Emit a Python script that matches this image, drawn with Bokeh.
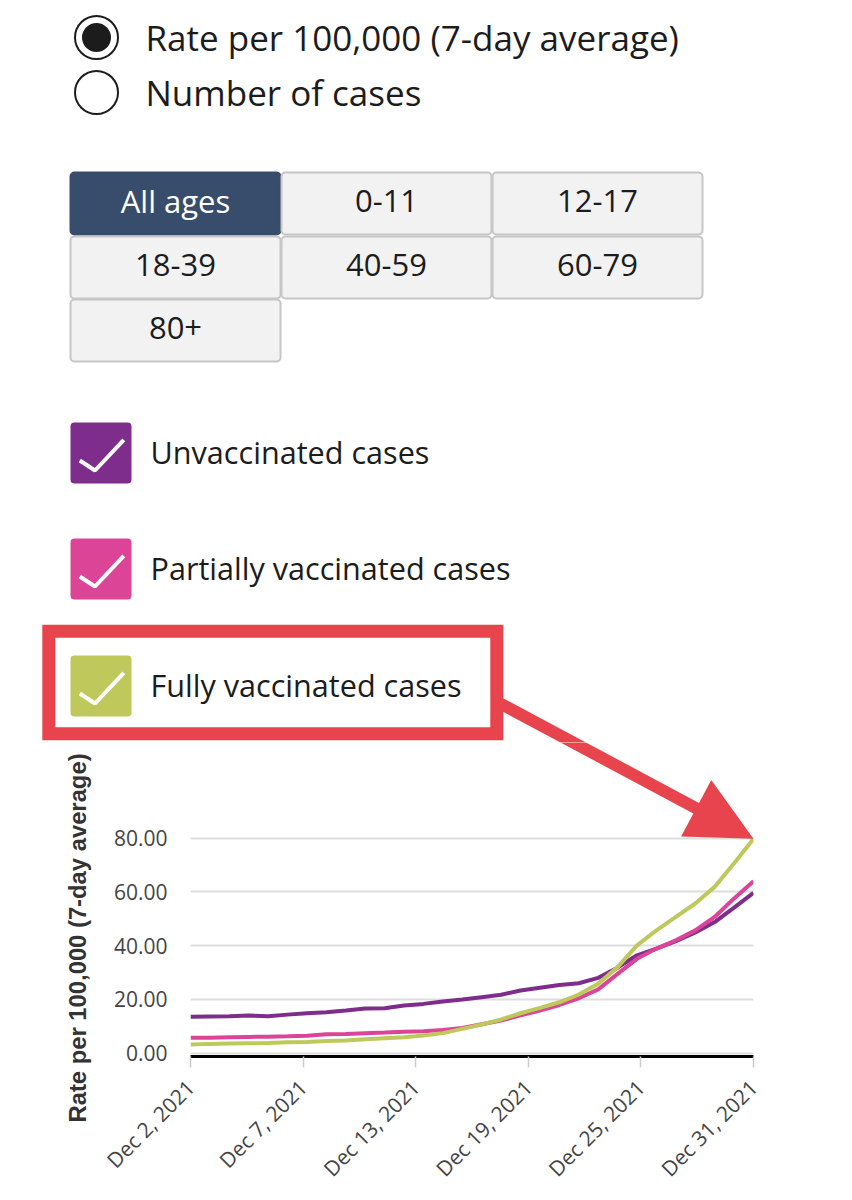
import datetime as dt
import math

from bokeh.plotting import figure
from bokeh.models import Range1d, FixedTicker, NumeralTickFormatter, Title, ColumnDataSource
from bokeh.layouts import column
from bokeh.embed import file_html
from bokeh.resources import INLINE
from bokeh.core.properties import value

# ---------------- data ----------------
dates = [dt.datetime(2021, 12, 2) + dt.timedelta(days=i) for i in range(30)]
unvaccinated = [13.5, 13.6, 13.7, 14.0, 13.7, 14.3, 14.8, 15.2, 15.8, 16.6,
                16.7, 17.7, 18.3, 19.2, 19.9, 20.8, 21.7, 23.3, 24.3, 25.3,
                26.0, 28.0, 31.8, 36.4, 38.9, 41.7, 44.9, 48.8, 54.2, 59.7]
partially = [5.7, 5.7, 5.9, 6.0, 6.1, 6.2, 6.4, 7.0, 7.1, 7.4,
             7.6, 7.9, 8.1, 8.6, 9.3, 10.7, 12.1, 14.0, 15.8, 17.9,
             20.4, 23.7, 29.5, 35.1, 38.9, 42.0, 45.7, 50.7, 57.6, 64.0]
fully = [3.2, 3.4, 3.5, 3.6, 3.7, 4.0, 4.1, 4.5, 4.7, 5.1,
         5.5, 5.9, 6.5, 7.4, 9.0, 10.6, 12.5, 14.8, 16.8, 18.9,
         21.8, 25.8, 32.0, 40.1, 45.7, 50.7, 55.7, 61.9, 70.7, 79.8]
y_ticks = [0, 20, 40, 60, 80]
x_tick_labels = ["Dec 2, 2021", "Dec 7, 2021", "Dec 13, 2021",
                 "Dec 19, 2021", "Dec 25, 2021", "Dec 31, 2021"]
y_axis_title = "Rate per 100,000 (7-day average)"
measure_options = ["Rate per 100,000 (7-day average)", "Number of cases"]
age_groups = ["All ages", "0-11", "12-17", "18-39", "40-59", "60-79", "80+"]
series_names = ["Unvaccinated cases", "Partially vaccinated cases", "Fully vaccinated cases"]
series_colors = ["#7e2d8c", "#dc4597", "#bfc85a"]

# ---------------- layout constants (pixels) ----------------
W, H = 852, 1200
TOP_H = 742
FRAME_L, FRAME_R = 190, 753
FRAME_T, FRAME_B = TOP_H, 1056
Y0_PX, YTOP_TICK_PX = 1052.5, 837.8
RED = "#e8444d"
TXT = "#1c1c1c"
FONT = value("Open Sans")
BASE_SHIFT = -13  # text anchor correction

ppu = (Y0_PX - YTOP_TICK_PX) / y_ticks[-1]
y_lo = -(FRAME_B - Y0_PX) / ppu
y_hi = (Y0_PX - FRAME_T) / ppu


def ms(d):
    return (d - dt.datetime(1970, 1, 1)).total_seconds() * 1000.0


x0, x1 = ms(dates[0]), ms(dates[-1])
span = x1 - x0


def px_to_x(px):
    return x0 + (px - FRAME_L) / (FRAME_R - FRAME_L) * span


def py_to_y(py):
    return y_lo + (FRAME_B - py) / (FRAME_B - FRAME_T) * (y_hi - y_lo)


def y_to_py(y):
    return FRAME_B - (y - y_lo) * ppu


# arrow geometry in page pixels; tip anchored on the last fully-vaccinated point
tip = (FRAME_R, y_to_py(fully[-1]))
start = (496.0, 701.0)
dx, dy = tip[0] - start[0], tip[1] - start[1]
L = math.hypot(dx, dy)
ux, uy = dx / L, dy / L
nx, ny = -uy, ux
head_len, head_half, shaft_half = 65.0, 32.0, 6.0
bx, by = tip[0] - head_len * ux, tip[1] - head_len * uy
arrow_px = [
    (start[0] - shaft_half * nx, start[1] - shaft_half * ny),
    (bx - shaft_half * nx, by - shaft_half * ny),
    (bx - head_half * nx, by - head_half * ny),
    tip,
    (bx + head_half * nx, by + head_half * ny),
    (bx + shaft_half * nx, by + shaft_half * ny),
    (start[0] + shaft_half * nx, start[1] + shaft_half * ny),
]

# ---------------- top figure: controls ----------------
top = figure(width=W, height=TOP_H, x_range=Range1d(0, W), y_range=Range1d(TOP_H, 0),
             x_axis_type=None, y_axis_type=None, toolbar_location=None,
             output_backend="svg", min_border=0, outline_line_color=None,
             frame_align=False)

# radio buttons
radio_cy = [37, 92]
top.scatter(x=[96, 96], y=radio_cy, size=43, marker="circle", fill_color="white",
            line_color=TXT, line_width=2)
top.scatter(x=[96], y=[radio_cy[0]], size=29, marker="circle", fill_color=TXT, line_color=None)
top.text(x=[145, 145], y=[c + 13 + BASE_SHIFT for c in radio_cy], text=measure_options,
         text_font=FONT, text_font_size="35px", text_color=TXT, text_baseline="alphabetic")

# age group buttons
col_left = [70, 281, 492]
row_top = [172, 236, 299]
bw, bh = 210, 62
lefts, tops, cx, cy = [], [], [], []
for i, _ in enumerate(age_groups):
    r, c = divmod(i, 3)
    lefts.append(col_left[c])
    tops.append(row_top[r])
    cx.append(col_left[c] + bw / 2)
    cy.append(row_top[r] + 41.5 + BASE_SHIFT)
fills = ["#384d6b"] + ["#f2f2f2"] * (len(age_groups) - 1)
lines = ["#384d6b"] + ["#c6c6c6"] * (len(age_groups) - 1)
tcol = ["white"] + [TXT] * (len(age_groups) - 1)
top.quad(left=lefts, right=[l + bw for l in lefts], top=tops, bottom=[t + bh for t in tops],
         fill_color=fills, line_color=lines, line_width=2, border_radius=4)
top.text(x=cx, y=cy, text=age_groups, text_font=FONT, text_font_size="31px",
         text_color=tcol, text_align="center", text_baseline="alphabetic")

# series check boxes
box_top = [422, 538, 655]
bs = 61
top.quad(left=[70] * 3, right=[70 + bs] * 3, top=box_top, bottom=[t + bs for t in box_top],
         fill_color=series_colors, line_color=None, border_radius=4)
check_rel = [(9.3, 38.0), (24.5, 48.0), (53.3, 17.3)]
top.multi_line(xs=[[70 + p[0] for p in check_rel] for _ in box_top],
               ys=[[t + p[1] for p in check_rel] for t in box_top],
               line_color="white", line_width=4)
top.text(x=[150] * 3, y=[t + bs / 2 + 11.5 + BASE_SHIFT for t in box_top], text=series_names,
         text_font=FONT, text_font_size="30.6px", text_color=TXT, text_baseline="alphabetic")

# red highlight box and arrow (upper part)
top.quad(left=48.3, right=496.3, top=630.7, bottom=733.3, fill_color=None,
         line_color=RED, line_width=13, line_join="miter")
top.patch(x=[p[0] for p in arrow_px], y=[p[1] for p in arrow_px], fill_color=RED, line_color=None)

# ---------------- bottom figure: chart ----------------
bot = figure(width=W, height=H - TOP_H, x_axis_type="datetime",
             x_range=Range1d(dates[0], dates[-1]), y_range=Range1d(y_lo, y_hi),
             min_border_left=FRAME_L, min_border_right=W - FRAME_R,
             min_border_top=0, min_border_bottom=H - FRAME_B,
             toolbar_location=None, output_backend="svg", outline_line_color=None,
             frame_align=False)

bot.yaxis.ticker = FixedTicker(ticks=y_ticks)
bot.yaxis.formatter = NumeralTickFormatter(format="0.00")
bot.yaxis.axis_line_color = None
bot.yaxis.major_tick_line_color = None
bot.yaxis.minor_tick_line_color = None
bot.yaxis.major_tick_out = 0
bot.yaxis.major_tick_in = 0
bot.yaxis.major_label_standoff = 23
bot.yaxis.major_label_text_font = "Open Sans"
bot.yaxis.major_label_text_font_size = "21px"
bot.yaxis.major_label_text_color = "#444444"

x_ticks = [x0 + k * span / (len(x_tick_labels) - 1) for k in range(len(x_tick_labels))]
bot.xaxis.ticker = FixedTicker(ticks=x_ticks)
bot.xaxis.major_label_overrides = dict(zip(x_ticks, x_tick_labels))
bot.xaxis.major_label_orientation = math.pi / 4
bot.xaxis.axis_line_color = "black"
bot.xaxis.axis_line_width = 3
bot.xaxis.major_tick_out = 11
bot.xaxis.major_tick_in = 0
bot.xaxis.major_tick_line_color = "#cccccc"
bot.xaxis.major_tick_line_width = 1.5
bot.xaxis.minor_tick_line_color = None
bot.xaxis.major_label_standoff = 16
bot.xaxis.major_label_text_font = "Open Sans"
bot.xaxis.major_label_text_font_size = "21px"
bot.xaxis.major_label_text_color = "#444444"

bot.xgrid.visible = False
bot.ygrid.grid_line_color = "#dddddd"
bot.ygrid.grid_line_width = 2

bot.add_layout(Title(text=y_axis_title, align="left", offset=-(1122 - FRAME_B), standoff=40,
                     text_font="Liberation Sans", text_font_style="bold",
                     text_font_size="23.8px", text_color="#333333"), "left")

src = ColumnDataSource(dict(date=dates, unvaccinated=unvaccinated,
                            partially=partially, fully=fully))
for col, color in zip(["unvaccinated", "partially", "fully"], series_colors):
    bot.line("date", col, source=src, line_color=color, line_width=4)

bot.patch(x=[px_to_x(p[0]) for p in arrow_px], y=[py_to_y(p[1]) for p in arrow_px],
          fill_color=RED, line_color=None)

layout = column(top, bot)
open("out.html", "w").write(file_html(layout, INLINE))
